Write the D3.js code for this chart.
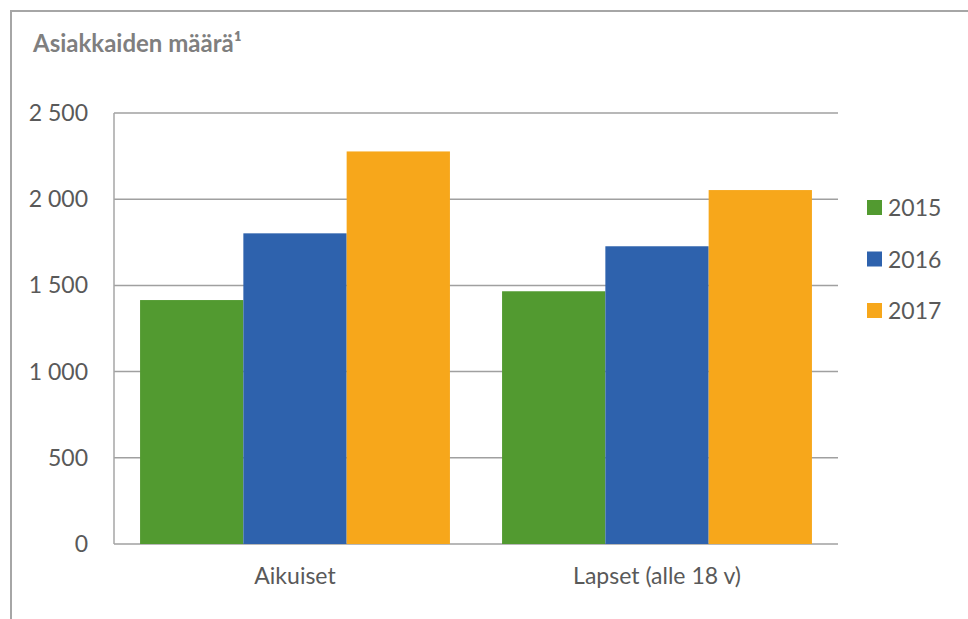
<!DOCTYPE html>
<meta charset="utf-8">
<script src="https://d3js.org/d3.v7.min.js"></script>
<style>
  body { margin: 0; background: #fff; }
  text { font-family: Lato, "Open Sans", sans-serif; }
</style>
<div id="chart"></div>
<script>

// data
var categories = ["Aikuiset", "Lapset (alle 18 v)"];
var years = ["2015", "2016", "2017"];
var values2015 = [1415, 1466];
var values2016 = [1802, 1727];
var values2017 = [2277, 2053];
var yTicks = [0, 500, 1000, 1500, 2000, 2500];
var colors = ["#529a30", "#2e62ad", "#f7a71b"];

var series = [values2015, values2016, values2017];

var W = 968, H = 619;
var margin = {top: 113, right: 130, bottom: 75, left: 114},
    width = W - margin.left - margin.right,
    height = H - margin.top - margin.bottom;

var root = d3.select("#chart").append("svg")
    .attr("width", W)
    .attr("height", H);

// outer frame (runs off the right/bottom edge)
root.append("rect")
    .attr("x", 11).attr("y", 11)
    .attr("width", W + 20).attr("height", H + 20)
    .attr("fill", "none")
    .attr("stroke", "#a6a6a6")
    .attr("stroke-width", 2);

root.append("text")
    .attr("x", 33).attr("y", 52)
    .style("font-size", "24px")
    .style("font-weight", "bold")
    .style("fill", "#7f7f7f")
    .text("Asiakkaiden määrä¹");

var svg = root.append("g")
    .attr("transform", "translate(" + margin.left + "," + margin.top + ")");

var x0 = d3.scaleBand()
    .domain(categories)
    .range([0, width])
    .paddingInner(0.144)
    .paddingOuter(0.072);

var x1 = d3.scaleBand()
    .domain(years)
    .range([0, x0.bandwidth()]);

var y = d3.scaleLinear()
    .domain([0, 2500])
    .range([height, 0]);

// gridlines
svg.append("g")
  .selectAll("line")
  .data(yTicks)
  .enter().append("line")
    .attr("x1", 0).attr("x2", width)
    .attr("y1", function(d) { return y(d); })
    .attr("y2", function(d) { return y(d); })
    .attr("stroke", "#a0a0a0")
    .attr("stroke-width", 1.5);

// left axis line
svg.append("line")
    .attr("x1", 0).attr("x2", 0)
    .attr("y1", 0).attr("y2", height)
    .attr("stroke", "#a6a6a6")
    .attr("stroke-width", 1.5);

// bars
years.forEach(function(yr, i) {
  svg.append("g").selectAll("rect")
    .data(series[i])
    .enter().append("rect")
      .attr("x", function(d, j) { return x0(categories[j]) + x1(yr); })
      .attr("y", function(d) { return y(d); })
      .attr("width", x1.bandwidth())
      .attr("height", function(d) { return height - y(d); })
      .attr("fill", colors[i]);
});

// y axis labels
var fmt = function(d) { return d3.format(",")(d).replace(",", " "); };
svg.append("g")
  .selectAll("text")
  .data(yTicks)
  .enter().append("text")
    .attr("x", -26)
    .attr("y", function(d) { return y(d); })
    .attr("dy", "0.35em")
    .attr("text-anchor", "end")
    .style("font-size", "23px")
    .style("fill", "#595959")
    .text(fmt);

// x axis labels
svg.append("g")
  .selectAll("text")
  .data(categories)
  .enter().append("text")
    .attr("x", function(d) { return x0(d) + x0.bandwidth() / 2; })
    .attr("y", height + 40)
    .attr("text-anchor", "middle")
    .style("font-size", "23px")
    .style("fill", "#595959")
    .text(function(d) { return d; });

// legend
var legend = root.append("g")
  .selectAll("g")
  .data(years)
  .enter().append("g")
    .attr("transform", function(d, i) { return "translate(867," + (200 + i * 51.5) + ")"; });

legend.append("rect")
    .attr("width", 15).attr("height", 15)
    .attr("fill", function(d, i) { return colors[i]; });

legend.append("text")
    .attr("x", 21).attr("y", 8)
    .attr("dy", "0.35em")
    .style("font-size", "23px")
    .style("fill", "#595959")
    .text(function(d) { return d; });

</script>
